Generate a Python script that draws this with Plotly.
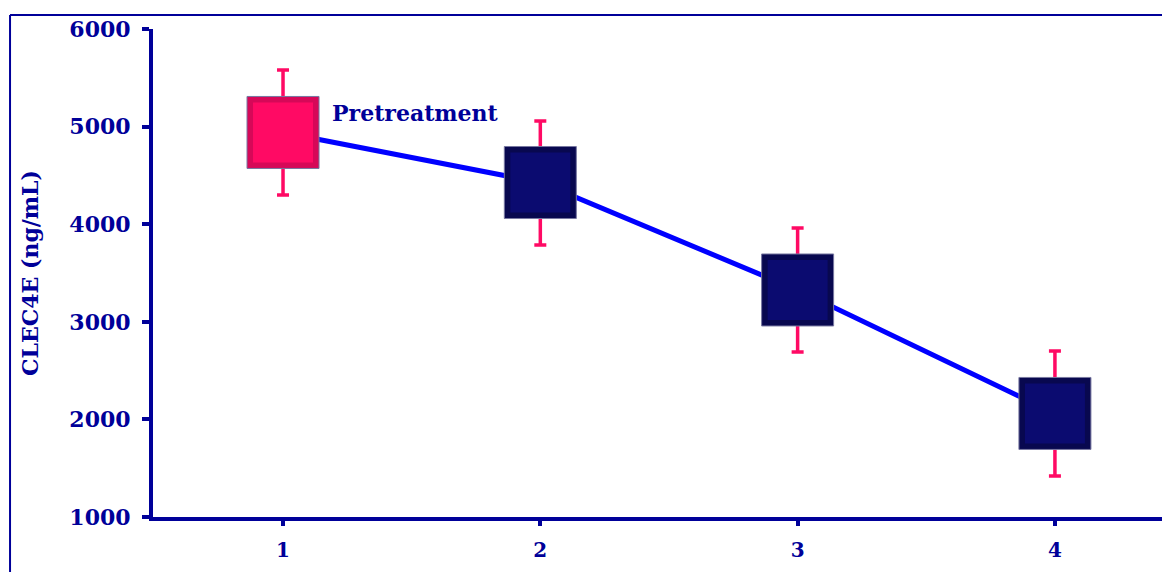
import plotly.graph_objects as go

visits = [1, 2, 3, 4]
means = [4940, 4427, 3326, 2061]
err_plus = [640, 630, 635, 640]
err_minus = [640, 640, 635, 641]
point_colors = ["#FF0A64", "#0B0B70", "#0B0B70", "#0B0B70"]
frame_colors = ["#D60858", "#08084F", "#08084F", "#08084F"]
label_text = "Pretreatment"
y_ticks = [1000, 2000, 3000, 4000, 5000, 6000]

NAVY = "#000099"
FONT = "DejaVu Serif"

fig = go.Figure()
fig.add_trace(go.Scatter(
    x=visits, y=means, mode="lines+markers",
    line=dict(color="#0000FF", width=5),
    marker=dict(symbol="square", size=72, color=frame_colors,
                line=dict(color="#7777A0", width=1)),
    error_y=dict(type="data", symmetric=False, array=err_plus, arrayminus=err_minus,
                 color="#FF0A64", thickness=3.5, width=6),
    showlegend=False, hoverinfo="skip",
))
fig.add_trace(go.Scatter(
    x=visits, y=means, mode="markers",
    marker=dict(symbol="square", size=60, color=point_colors, line=dict(width=0)),
    showlegend=False, hoverinfo="skip",
))

fig.add_annotation(x=visits[0], y=means[0], text=label_text, showarrow=False,
                   xanchor="left", yanchor="middle", xshift=47, yshift=19,
                   font=dict(family=FONT, size=22, color=NAVY, weight="bold"))

fig.update_layout(
    width=1178, height=572,
    margin=dict(l=145, r=0, t=21, b=63),
    paper_bgcolor="white", plot_bgcolor="white",
    font=dict(family=FONT, color=NAVY),
    xaxis=dict(range=[0.4947, 4.5094], tickvals=visits, showgrid=False, zeroline=False,
               showline=True, linecolor=NAVY, linewidth=4,
               ticks="outside", ticklen=5, tickwidth=4, tickcolor=NAVY,
               tickfont=dict(family=FONT, size=20, color=NAVY, weight="bold"),
               ticklabelstandoff=7),
    yaxis=dict(range=[1000, 6000], tickvals=y_ticks, showgrid=False, zeroline=False,
               showline=True, linecolor=NAVY, linewidth=4,
               ticks="outside", ticklen=7, tickwidth=4, tickcolor=NAVY,
               tickfont=dict(family=FONT, size=22, color=NAVY, weight="bold"),
               ticklabelstandoff=7,
               title=dict(text="CLEC4E (ng/mL)", standoff=26,
                          font=dict(family=FONT, size=22, color=NAVY, weight="bold"))),
    shapes=[
        dict(type="line", xref="paper", yref="paper", x0=-0.1384, x1=1.2, y0=1.0287, y1=1.0287,
             line=dict(color=NAVY, width=2)),
        dict(type="line", xref="paper", yref="paper", x0=-0.1384, x1=-0.1384, y0=1.0287, y1=-0.3,
             line=dict(color=NAVY, width=2)),
    ],
)

fig.write_html("out.html")
